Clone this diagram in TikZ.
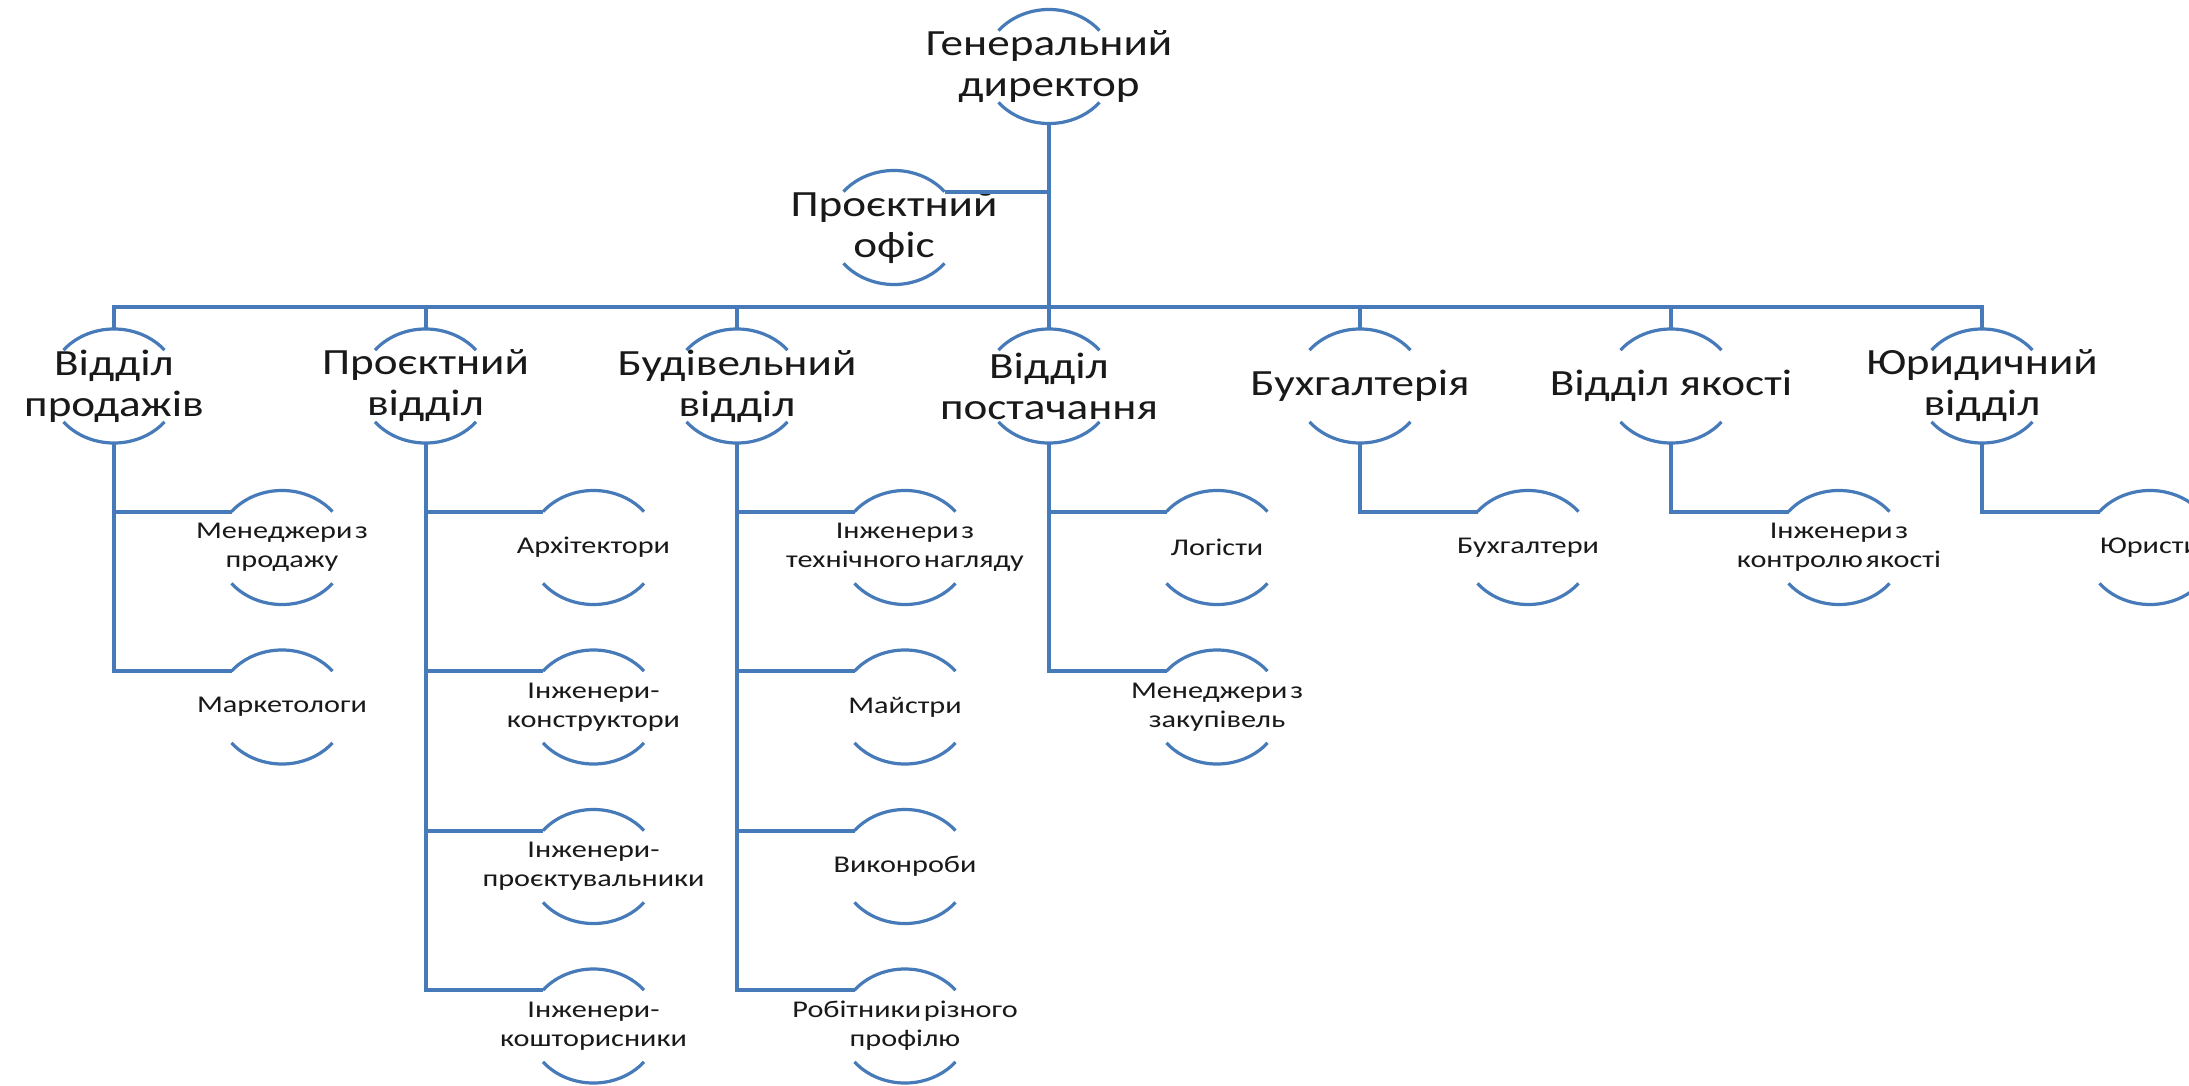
\documentclass[tikz,border=0pt]{standalone}
\usepackage{fontspec}
\setmainfont{Carlito}[FakeStretch=1.22]
\newfontfamily\smallf{Carlito}[FakeStretch=1.26]
\newcommand{\tightspace}{\spaceskip=0.12em\relax}
\definecolor{lineblue}{RGB}{70,122,184}
\tikzset{
  big/.style={font=\fontsize{37}{41}\selectfont, align=center, inner sep=0pt, text=black!90},
  small/.style={font=\smallf\fontsize{24}{29}\selectfont\tightspace, align=center, inner sep=0pt, text=black!90},
  conn/.style={draw=lineblue, line width=4pt},
  arcline/.style={draw=lineblue, line width=3.2pt},
}
\newcommand{\ringarcs}[1]{%
  \draw[arcline] ([shift={(-50.5pt,35.9pt)}]#1.center) arc[start angle=141,end angle=39,x radius=65pt,y radius=57pt];
  \draw[arcline] ([shift={(-50.5pt,-35.9pt)}]#1.center) arc[start angle=219,end angle=321,x radius=65pt,y radius=57pt];
}
\newcommand{\bignode}[4]{\node[big] (#1) at (#2,#3) {#4}; \ringarcs{#1}}
\newcommand{\smallnode}[4]{\node[small] (#1) at (#2,#3) {#4}; \ringarcs{#1}}
\newcommand{\deptlink}[1]{\draw[conn] ([yshift=57pt]#1.center) |- (bus);}
\newcommand{\childlink}[2]{\draw[conn] ([yshift=-57pt]#1.center) |- ([shift={(-50.5pt,35.9pt)}]#2.center);}
\begin{document}
\begin{tikzpicture}[x=1pt,y=-1pt]
\clip (0,0) rectangle (2189,1086);
\fill[white] (0,0) rectangle (2189,1086);
% top
\bignode{dir}{1049}{66.5}{Генеральний\\директор}
\bignode{po}{894}{227.5}{Проєктний\\офіс}
\coordinate (bus) at (1049,307);
\draw[conn] ([yshift=-57pt]dir.center) -- (bus);
\coordinate (poR) at ([shift={(50.5pt,35.9pt)}]po.center);
\draw[conn] (poR) -- (poR -| dir.center);
% departments
\bignode{d1}{114}{386}{Відділ\\продажів}
\bignode{d2}{425.5}{386}{Проєктний\\відділ}
\bignode{d3}{737}{386}{Будівельний\\відділ}
\bignode{d4}{1049}{386}{Відділ\\постачання}
\bignode{d5}{1360}{386}{Бухгалтерія}
\bignode{d6}{1671}{386}{Відділ якості}
\bignode{d7}{1982}{386}{Юридичний\\відділ}
\deptlink{d1}\deptlink{d2}\deptlink{d3}\deptlink{d4}\deptlink{d5}\deptlink{d6}\deptlink{d7}
% children
\smallnode{c11}{282}{547.5}{Менеджери з\\продажу}
\smallnode{c12}{282}{707}{Маркетологи}
\smallnode{c21}{593.5}{547.5}{Архітектори}
\smallnode{c22}{593.5}{707}{Інженери-\\конструктори}
\smallnode{c23}{593.5}{866.5}{Інженери-\\проєктувальники}
\smallnode{c24}{593.5}{1026}{Інженери-\\кошторисники}
\smallnode{c31}{905}{547.5}{Інженери з\\технічного нагляду}
\smallnode{c32}{905}{707}{Майстри}
\smallnode{c33}{905}{866.5}{Виконроби}
\smallnode{c34}{905}{1026}{Робітники різного\\профілю}
\smallnode{c41}{1217}{547.5}{Логісти}
\smallnode{c42}{1217}{707}{Менеджери з\\закупівель}
\smallnode{c51}{1528}{547.5}{Бухгалтери}
\smallnode{c61}{1839}{547.5}{Інженери з\\контролю якості}
\smallnode{c71}{2150}{547.5}{Юристи}
\childlink{d1}{c11}\childlink{d1}{c12}
\childlink{d2}{c21}\childlink{d2}{c22}\childlink{d2}{c23}\childlink{d2}{c24}
\childlink{d3}{c31}\childlink{d3}{c32}\childlink{d3}{c33}\childlink{d3}{c34}
\childlink{d4}{c41}\childlink{d4}{c42}
\childlink{d5}{c51}
\childlink{d6}{c61}
\childlink{d7}{c71}
\end{tikzpicture}
\end{document}
